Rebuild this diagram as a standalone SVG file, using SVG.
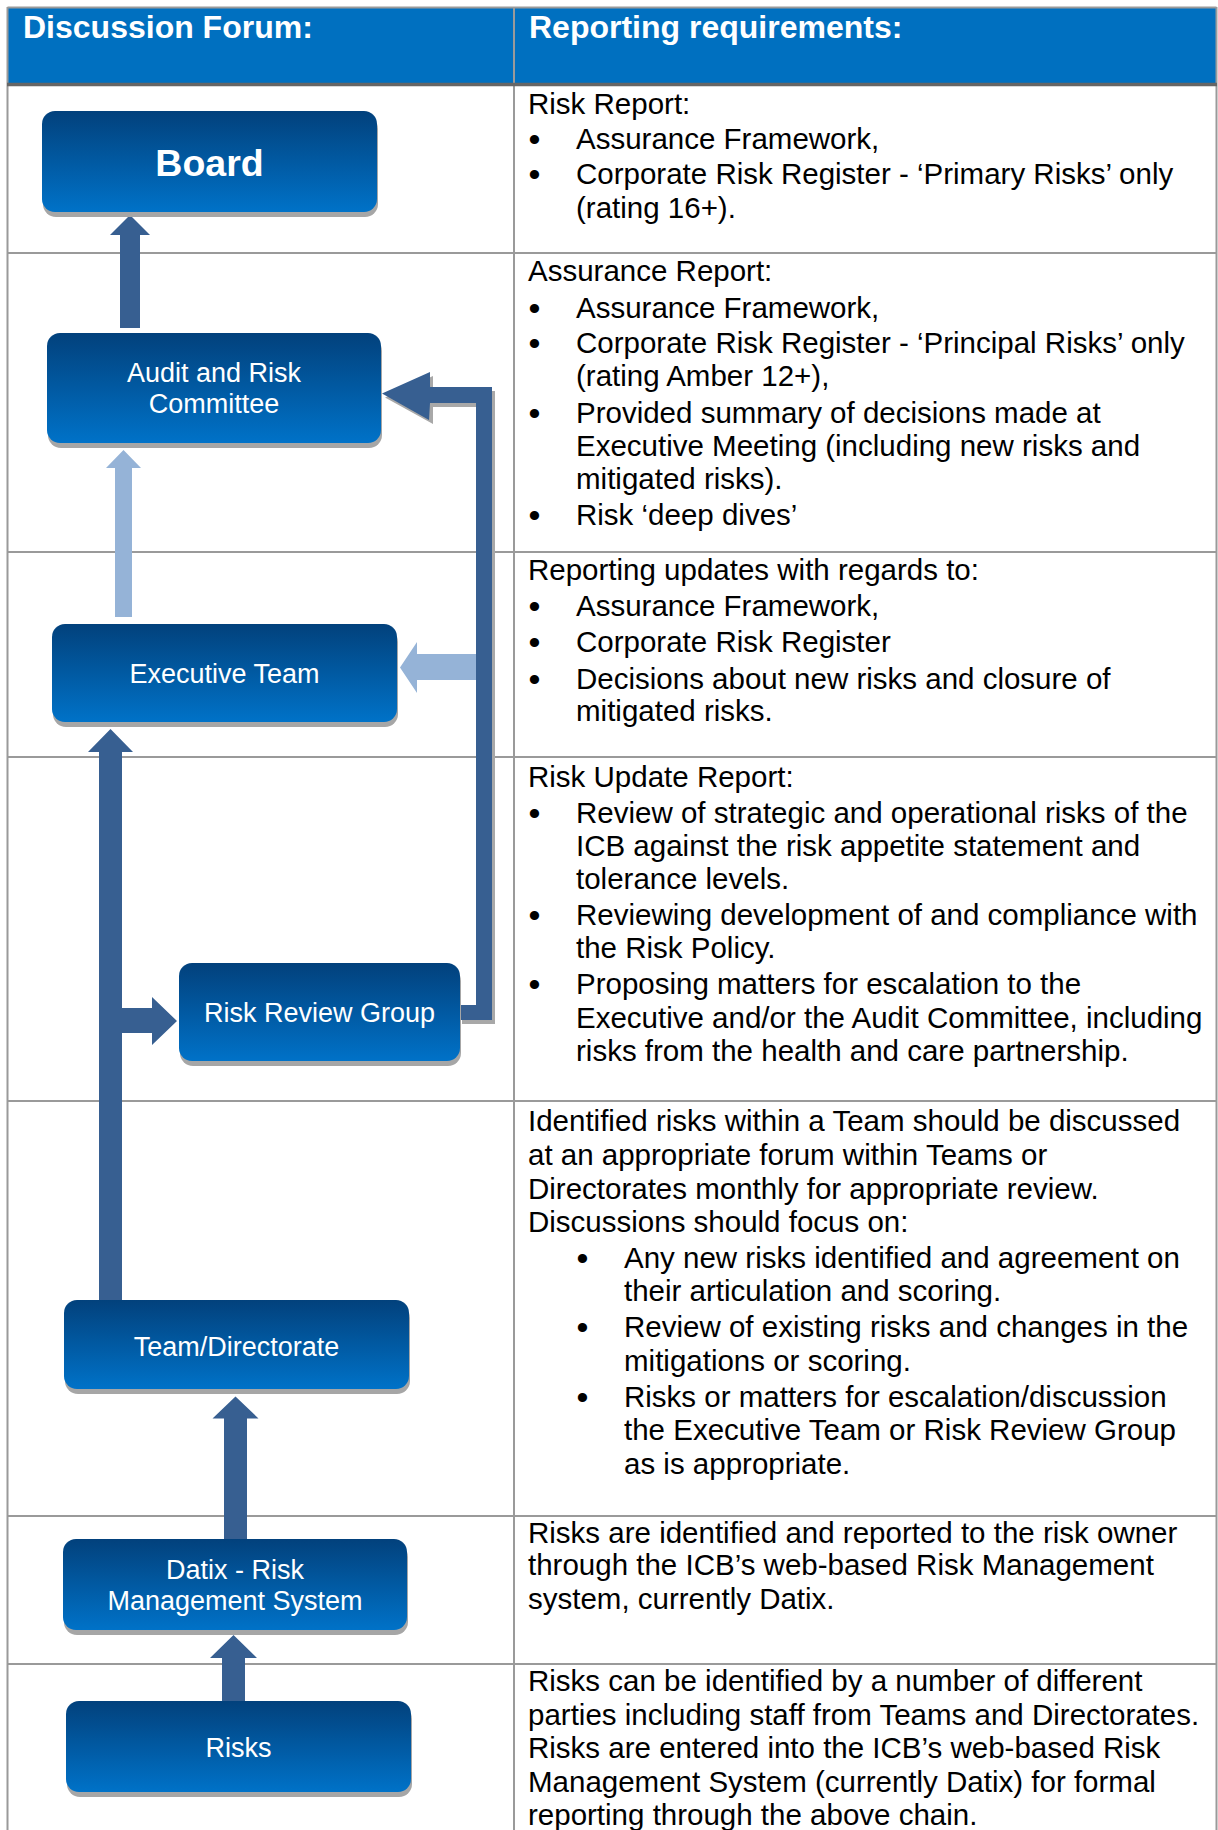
<svg xmlns="http://www.w3.org/2000/svg" width="1218" height="1830" viewBox="0 0 1218 1830">
<defs>
<linearGradient id="nodeGrad" x1="0" y1="0" x2="0" y2="1">
<stop offset="0" stop-color="#02417c"/>
<stop offset="1" stop-color="#0072c8"/>
</linearGradient>
<style>
text { font-family: "Liberation Sans", Arial, sans-serif; }
.cell { font-size: 29.5px; fill: #000; }
.b { font-size: 34px; }
.hdr { font-size: 32px; font-weight: bold; fill: #fff; }
.lbl { font-size: 27px; fill: #fff; text-anchor: middle; }
.grid { stroke: #9a9a9a; stroke-width: 2; fill: none; }
.node { fill: url(#nodeGrad); }
.shadow { fill: #a6a6a6; }
.dark { fill: #375f91; }
.light { fill: #95b3d7; }
.cshadow { fill: #a8a8a8; }
</style>
</defs>
<rect x="0" y="0" width="1218" height="1830" fill="#fff"/>

<!-- table -->
<g id="table">
<rect x="8" y="8" width="1208" height="76" fill="#0070c0"/>
<line class="grid" x1="7.5" y1="7.5" x2="1216.5" y2="7.5"/>
<line class="grid" x1="7.5" y1="7" x2="7.5" y2="1830"/>
<line class="grid" x1="1216.5" y1="7" x2="1216.5" y2="1830"/>
<line class="grid" x1="514" y1="7" x2="514" y2="1830"/>
<line x1="7" y1="84.5" x2="1217" y2="84.5" stroke="#666" stroke-width="3.5"/>
<line class="grid" x1="7" y1="253" x2="1217" y2="253"/>
<line class="grid" x1="7" y1="552" x2="1217" y2="552"/>
<line class="grid" x1="7" y1="757" x2="1217" y2="757"/>
<line class="grid" x1="7" y1="1101" x2="1217" y2="1101"/>
<line class="grid" x1="7" y1="1516" x2="1217" y2="1516"/>
<line class="grid" x1="7" y1="1664" x2="1217" y2="1664"/>
<text class="hdr" x="23" y="38">Discussion Forum:</text>
<text class="hdr" x="529" y="38">Reporting requirements:</text>
</g>

<!-- reporting requirements -->
<g id="req-board" class="cell">
<text x="528" y="113.5">Risk Report:</text>
<text class="b" x="528.5" y="151">•</text><text x="576" y="149">Assurance Framework,</text>
<text class="b" x="528.5" y="185.5">•</text><text x="576" y="183.5">Corporate Risk Register - ‘Primary Risks’ only</text>
<text x="576" y="218">(rating 16+).</text>
</g>
<g id="req-arc" class="cell">
<text x="528" y="281">Assurance Report:</text>
<text class="b" x="528.5" y="319.5">•</text><text x="576" y="317.5">Assurance Framework,</text>
<text class="b" x="528.5" y="354.5">•</text><text x="576" y="352.5">Corporate Risk Register - ‘Principal Risks’ only</text>
<text x="576" y="386">(rating Amber 12+),</text>
<text class="b" x="528.5" y="424.5">•</text><text x="576" y="422.5">Provided summary of decisions made at</text>
<text x="576" y="456">Executive Meeting (including new risks and</text>
<text x="576" y="489">mitigated risks).</text>
<text class="b" x="528.5" y="527">•</text><text x="576" y="525">Risk ‘deep dives’</text>
</g>
<g id="req-exec" class="cell">
<text x="528" y="580">Reporting updates with regards to:</text>
<text class="b" x="528.5" y="618">•</text><text x="576" y="616">Assurance Framework,</text>
<text class="b" x="528.5" y="654">•</text><text x="576" y="652">Corporate Risk Register</text>
<text class="b" x="528.5" y="690.5">•</text><text x="576" y="688.5">Decisions about new risks and closure of</text>
<text x="576" y="721">mitigated risks.</text>
</g>
<g id="req-rrg" class="cell">
<text x="528" y="786.5">Risk Update Report:</text>
<text class="b" x="528.5" y="824.5">•</text><text x="576" y="822.5">Review of strategic and operational risks of the</text>
<text x="576" y="855.5">ICB against the risk appetite statement and</text>
<text x="576" y="889">tolerance levels.</text>
<text class="b" x="528.5" y="927">•</text><text x="576" y="925">Reviewing development of and compliance with</text>
<text x="576" y="958">the Risk Policy.</text>
<text class="b" x="528.5" y="996">•</text><text x="576" y="994">Proposing matters for escalation to the</text>
<text x="576" y="1028">Executive and/or the Audit Committee, including</text>
<text x="576" y="1060.5">risks from the health and care partnership.</text>
</g>
<g id="req-team" class="cell">
<text x="528" y="1130.5">Identified risks within a Team should be discussed</text>
<text x="528" y="1164.5">at an appropriate forum within Teams or</text>
<text x="528" y="1198.5">Directorates monthly for appropriate review.</text>
<text x="528" y="1232">Discussions should focus on:</text>
<text class="b" x="576.5" y="1270">•</text><text x="624" y="1268">Any new risks identified and agreement on</text>
<text x="624" y="1301">their articulation and scoring.</text>
<text class="b" x="576.5" y="1339">•</text><text x="624" y="1337">Review of existing risks and changes in the</text>
<text x="624" y="1371">mitigations or scoring.</text>
<text class="b" x="576.5" y="1409">•</text><text x="624" y="1407">Risks or matters for escalation/discussion</text>
<text x="624" y="1440">the Executive Team or Risk Review Group</text>
<text x="624" y="1473.5">as is appropriate.</text>
</g>
<g id="req-datix" class="cell">
<text x="528" y="1542.5">Risks are identified and reported to the risk owner</text>
<text x="528" y="1575">through the ICB’s web-based Risk Management</text>
<text x="528" y="1609">system, currently Datix.</text>
</g>
<g id="req-risks" class="cell">
<text x="528" y="1690.5">Risks can be identified by a number of different</text>
<text x="528" y="1724.5">parties including staff from Teams and Directorates.</text>
<text x="528" y="1758">Risks are entered into the ICB’s web-based Risk</text>
<text x="528" y="1792">Management System (currently Datix) for formal</text>
<text x="528" y="1825">reporting through the above chain.</text>
</g>

<!-- connectors -->
<g id="connectors">
<polygon class="dark" points="130,215 150,235 140,235 140,328 120,328 120,235 110,235"/>
<polygon class="light" points="123.5,450 141,468 132,468 132,617 115,617 115,468 106,468"/>
<polygon class="dark" points="110.5,729 133,752 122,752 122,1300 99,1300 99,752 88,752"/>
<polygon class="dark" points="122,1008 152,1008 152,997 177,1021 152,1045 152,1033 122,1033"/>
<polygon class="cshadow" points="462,1009 479,1009 479,407 433,407 433,424 385,397.5 433,376 433,391 495,391 495,1024 462,1024"/>
<polygon class="dark" points="460,1005 476,1005 476,403 430,403 429,420 382,393.5 430,372 430,387 492,387 492,1020 460,1020"/>
<polygon class="light" points="476,654 417,654 417,642 400,667.5 417,693 417,680 476,680"/>
<polygon class="dark" points="235.5,1396.5 258.5,1418.5 247,1418.5 247,1539 224,1539 224,1418.5 212.5,1418.5"/>
<polygon class="dark" points="233.5,1635 257,1658 245,1658 245,1701 222,1701 222,1658 210,1658"/>
</g>

<!-- nodes -->
<g id="node-board">
<rect class="shadow" x="43" y="116" width="335" height="101" rx="13"/>
<rect class="node" x="42" y="111" width="335" height="101" rx="13"/>
<text class="lbl" x="209.5" y="175.5" style="font-size:37.5px;font-weight:bold">Board</text>
</g>
<g id="node-arc">
<rect class="shadow" x="48" y="338" width="334" height="110" rx="13"/>
<rect class="node" x="47" y="333" width="334" height="110" rx="13"/>
<text class="lbl" x="214" y="382">Audit and Risk</text>
<text class="lbl" x="214" y="413">Committee</text>
</g>
<g id="node-exec">
<rect class="shadow" x="53" y="629" width="345" height="98" rx="13"/>
<rect class="node" x="52" y="624" width="345" height="98" rx="13"/>
<text class="lbl" x="224.5" y="683">Executive Team</text>
</g>
<g id="node-rrg">
<rect class="shadow" x="180" y="968" width="281" height="98" rx="13"/>
<rect class="node" x="179" y="963" width="281" height="98" rx="13"/>
<text class="lbl" x="319.5" y="1022">Risk Review Group</text>
</g>
<g id="node-team">
<rect class="shadow" x="65" y="1305" width="345" height="89" rx="13"/>
<rect class="node" x="64" y="1300" width="345" height="89" rx="13"/>
<text class="lbl" x="236.5" y="1355.5">Team/Directorate</text>
</g>
<g id="node-datix">
<rect class="shadow" x="64" y="1544" width="344" height="91" rx="13"/>
<rect class="node" x="63" y="1539" width="344" height="91" rx="13"/>
<text class="lbl" x="235" y="1579">Datix - Risk</text>
<text class="lbl" x="235" y="1609.5">Management System</text>
</g>
<g id="node-risks">
<rect class="shadow" x="67" y="1706" width="345" height="91" rx="13"/>
<rect class="node" x="66" y="1701" width="345" height="91" rx="13"/>
<text class="lbl" x="238.5" y="1757">Risks</text>
</g>
</svg>
